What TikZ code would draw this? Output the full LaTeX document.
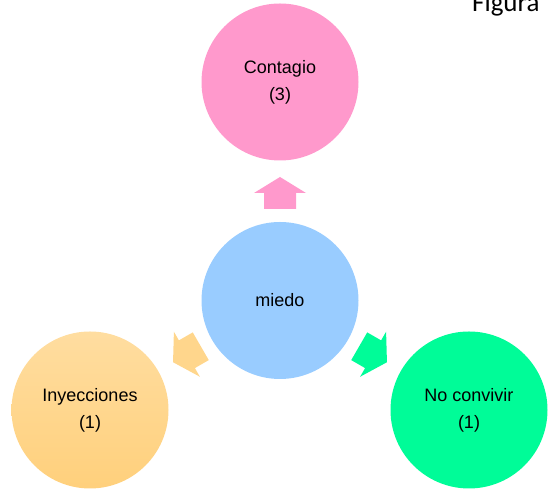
\documentclass[tikz,border=0pt]{standalone}
\usepackage{fontspec}
\usetikzlibrary{calc}
\setmainfont{Liberation Sans}
\newfontfamily\figfont{Carlito}
\definecolor{pinkc}{RGB}{255,153,204}
\definecolor{bluec}{RGB}{153,204,255}
\definecolor{greenc}{RGB}{0,252,152}
\definecolor{orangetop}{RGB}{255,221,160}
\definecolor{orangebot}{RGB}{255,208,124}
\definecolor{orangec}{RGB}{255,214,140}
\begin{document}
\begin{tikzpicture}[x=1pt,y=1pt,
  circ/.style={circle, minimum size=157pt, inner sep=0pt, align=center,
    font=\fontsize{18}{27}\selectfont, text=black}]
\useasboundingbox (0,0) rectangle (550,489);
% circles
\node[circ, fill=bluec] (m) at (280,188.5) {miedo};
\node[circ, fill=pinkc] (c) at (280,407) {Contagio\\(3)};
\node[circ, top color=orangetop, bottom color=orangebot] (i) at (90,79) {Inyecciones\\(1)};
\node[circ, fill=greenc] (n) at (469,79) {No convivir\\(1)};
% arrows
\foreach \ang/\col/\nm in {90/pinkc/ac, 210/orangec/ai, 330/greenc/an}{
  \coordinate (\nm) at ($(m)+(\ang:107.5)$);
  \fill[\col, shift={(\nm)}, rotate=\ang]
    (-16,-16) -- (0,-16) -- (0,-26) -- (16,0) -- (0,26) -- (0,16) -- (-16,16) -- cycle;
}
% title fragment
\node[anchor=base west, inner sep=0pt, font=\figfont\fontsize{27}{30}\selectfont] (fig) at (472,477) {Figura};
\end{tikzpicture}
\end{document}
